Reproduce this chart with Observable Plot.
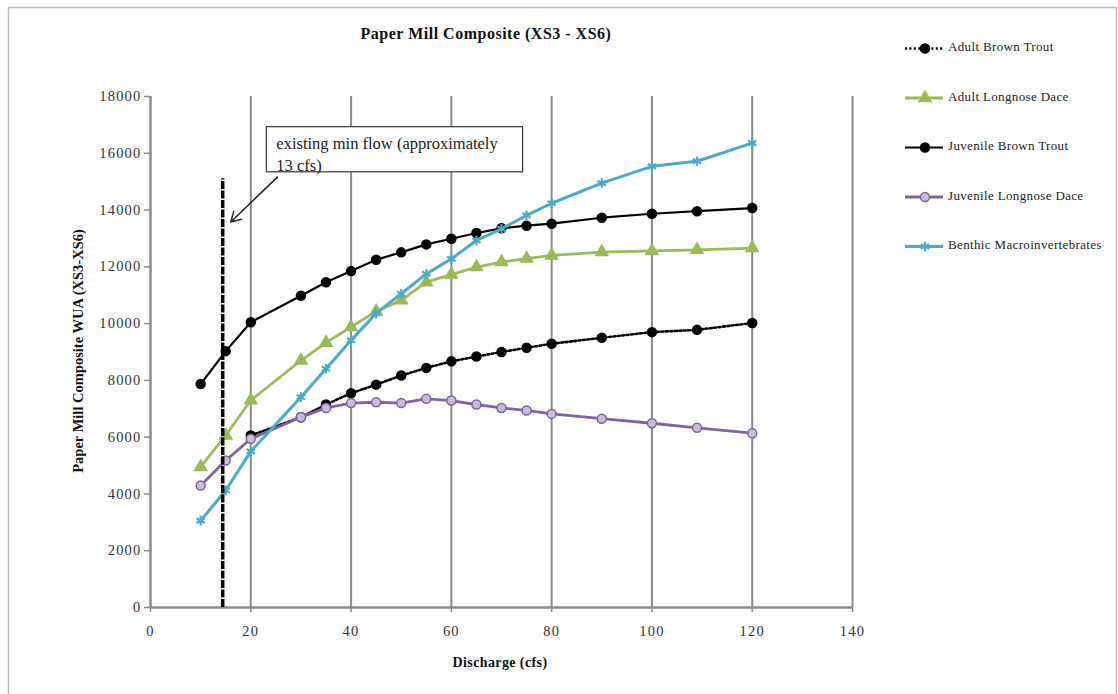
<!DOCTYPE html>
<html><head><meta charset="utf-8">
<script src="https://cdn.jsdelivr.net/npm/d3@7"></script>
<script src="https://cdn.jsdelivr.net/npm/@observablehq/plot@0.6"></script>
<style>
body{margin:0;background:#fff;}
#chart{width:1118px;height:694px;}
#chart svg g[aria-label="y-axis tick label"] text,
#chart svg g[aria-label="x-axis tick label"] text{letter-spacing:1.2px;}
</style>
</head><body><div id="chart"></div>
<script>
// ---- data ----
const discharge = [10,15,20,30,35,40,45,50,55,60,65,70,75,80,90,100,109,120];
const adultBrownTrout     = [null,null,6060,6700,7150,7550,7850,8170,8440,8670,8840,9000,9150,9290,9500,9700,9780,10020];
const adultLongnoseDace   = [4950,6060,7300,8700,9330,9880,10430,10820,11460,11730,11990,12170,12290,12400,12520,12560,12600,12660];
const juvenileBrownTrout  = [7870,9030,10050,10980,11460,11850,12250,12510,12790,12990,13190,13360,13450,13520,13730,13870,13960,14070];
const juvenileLongnoseDace= [4300,5180,5940,6700,7030,7200,7230,7200,7350,7290,7150,7030,6940,6820,6650,6490,6330,6140];
const benthicMacro        = [3060,4120,5500,7410,8410,9410,10360,11050,11750,12280,12930,13340,13810,14240,14950,15540,15720,16360];

const seriesNames = ["Adult Brown Trout","Adult Longnose Dace","Juvenile Brown Trout","Juvenile Longnose Dace","Benthic Macroinvertebrates"];
const seriesValues = [adultBrownTrout, adultLongnoseDace, juvenileBrownTrout, juvenileLongnoseDace, benthicMacro];
const seriesColors = ["#000000","#9bbb59","#000000","#8064a2","#4bacc6"];
const seriesDash   = ["2,2.4",null,null,null,null];
const seriesWidth  = [2.6,2.8,2.2,2.8,3];
const seriesSymbol = ["circle","triangle","circle","circle","asterisk"];
const seriesFill   = ["#000000","#9bbb59","#000000","#c9bddb","none"];

const xTicks = [0,20,40,60,80,100,120,140];
const yTicks = [0,2000,4000,6000,8000,10000,12000,14000,16000,18000];

const minFlow = [{x:14.4, y1:0, y2:15100}];
const noteBox = [{x1:23.2, x2:74.3, y1:15330, y2:16920}];
const noteText = [{x:25.1, y:16680, label:"existing min flow (approximately\n13 cfs)"}];
const noteArrow = [{x1:25.3, y1:15160, x2:16.0, y2:13580}];

const title = "Paper Mill Composite (XS3 - XS6)";
const xLabel = "Discharge (cfs)";
const yLabel = "Paper Mill Composite WUA (XS3-XS6)";

// ---- build ----
const font = "'Liberation Serif', 'Times New Roman', serif";
const seriesMarks = seriesNames.flatMap((name, i) => {
  const rows = discharge.map((x, j) => ({x, y: seriesValues[i][j]})).filter(d => d.y != null);
  const lineOpts = {x:"x", y:"y", stroke: seriesColors[i], strokeWidth: seriesWidth[i]};
  if (seriesDash[i]) lineOpts.strokeDasharray = seriesDash[i];
  return [
    Plot.line(rows, lineOpts),
    Plot.dot(rows, {x:"x", y:"y", symbol: seriesSymbol[i], r: 4.5,
      fill: seriesFill[i], stroke: seriesColors[i], strokeWidth: seriesSymbol[i]==="asterisk" ? 2.2 : 1.5})
  ];
});

const chart = Plot.plot({
  width:1118, height:694,
  marginLeft:150, marginRight:266, marginTop:96, marginBottom:87,
  style:{fontFamily:font, fontSize:"14px", background:"white", color:"#333", overflow:"visible"},
  x:{domain:[0,140]},
  y:{domain:[0,18000]},
  marks:[
    Plot.ruleX(xTicks.slice(1), {stroke:"#8a8a8a", strokeWidth:2}),
    Plot.ruleX([0], {stroke:"#8a8a8a", strokeWidth:2.5}),
    Plot.ruleY([0], {stroke:"#8a8a8a", strokeWidth:2.5}),
    Plot.axisY({ticks:yTicks, tickSize:6, tickPadding:3, stroke:"#8a8a8a", fill:"#333", strokeWidth:1.5, label:null, tickFormat:d=>String(d), fontSize:14.5}),
    Plot.axisX({ticks:xTicks, tickSize:5, tickPadding:13, stroke:"#8a8a8a", fill:"#333", strokeWidth:1.5, label:null, tickFormat:d=>String(d), fontSize:14.5}),
    ...seriesMarks,
    Plot.ruleX(minFlow, {x:"x", y1:"y1", y2:"y2", stroke:"#000", strokeWidth:3.5, strokeDasharray:"8,1.5"}),
    Plot.rect(noteBox, {x1:"x1", x2:"x2", y1:"y1", y2:"y2", fill:"white", stroke:"#333", strokeWidth:1.2}),
    Plot.text(noteText, {x:"x", y:"y", text:"label", textAnchor:"start", lineAnchor:"top", lineHeight:1.3, fontSize:16.5, fill:"#222"}),
    Plot.arrow(noteArrow, {x1:"x1", y1:"y1", x2:"x2", y2:"y2", stroke:"#222", strokeWidth:1.5, headLength:11})
  ]
});

const svg = d3.select(chart);
// frame
svg.insert("rect", ":first-child").attr("x",8.5).attr("y",7.5).attr("width",1108).attr("height",690)
  .attr("fill","white").attr("stroke","#bdbdbd").attr("stroke-width",1.5);
// title
svg.append("text").attr("x",486).attr("y",39).attr("text-anchor","middle")
  .attr("font-family",font).attr("font-weight","bold").attr("font-size",16).attr("letter-spacing","0.5px").attr("fill","#111").text(title);
// x label
svg.append("text").attr("x",500).attr("y",664).attr("text-anchor","middle").attr("dominant-baseline","middle")
  .attr("font-family",font).attr("font-weight","bold").attr("font-size",14).attr("letter-spacing","0.4px").attr("fill","#111").text(xLabel);
// y label
svg.append("text").attr("transform","translate(80,351) rotate(-90)").attr("text-anchor","middle").attr("dominant-baseline","middle")
  .attr("font-family",font).attr("font-weight","bold").attr("font-size",14.5).attr("fill","#111").text(yLabel);
// legend
const symMap = {circle:d3.symbolCircle, triangle:d3.symbolTriangle, asterisk:d3.symbolAsterisk};
const lg = svg.append("g");
seriesNames.forEach((name,i)=>{
  const yy = 48.5 + i*49.5;
  const g = lg.append("g").attr("transform",`translate(0,${yy})`);
  g.append("line").attr("x1",905).attr("x2",943).attr("y1",0).attr("y2",0)
    .attr("stroke",seriesColors[i]).attr("stroke-width",seriesWidth[i]).attr("stroke-dasharray",seriesDash[i]);
  g.append("path").attr("transform","translate(925,0)").attr("d", d3.symbol(symMap[seriesSymbol[i]], Math.PI*4.5*4.5)())
    .attr("fill",seriesFill[i]).attr("stroke",seriesColors[i]).attr("stroke-width",seriesSymbol[i]==="asterisk"?2.2:1.5);
  g.append("text").attr("x",948).attr("y",0).attr("dominant-baseline","middle").attr("text-anchor","start")
    .attr("font-family",font).attr("font-size",13).attr("letter-spacing","0.35px").attr("fill","#222").text(name);
});

document.getElementById("chart").appendChild(chart);
</script>
</body></html>
